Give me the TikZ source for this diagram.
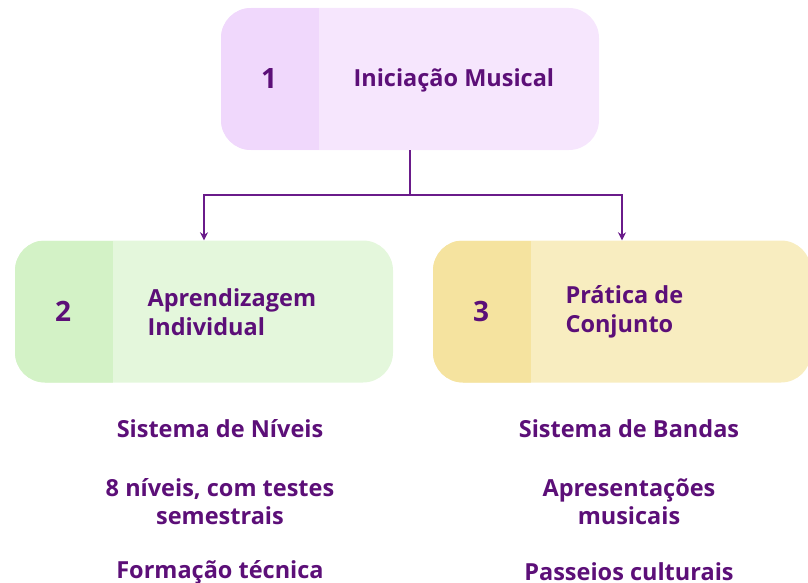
\documentclass[tikz,border=0pt]{standalone}
\usepackage{fontspec}
\setmainfont{Open Sans}
\usetikzlibrary{arrows.meta}
\definecolor{txt}{HTML}{5C0F78}
\definecolor{ln}{HTML}{6A1B8A}
\definecolor{pmain}{HTML}{F6E6FD}
\definecolor{pstrip}{HTML}{F0D8FC}
\definecolor{gmain}{HTML}{E4F7DC}
\definecolor{gstrip}{HTML}{D3F2C6}
\definecolor{ymain}{HTML}{F8EDC0}
\definecolor{ystrip}{HTML}{F5E39F}
\tikzset{
  card/.style n args={2}{rectangle, rounded corners=30pt, minimum width=378pt, minimum height=142pt,
    fill=#1, inner sep=0pt,
    path picture={\fill[#2, sharp corners] (path picture bounding box.south west) rectangle ([xshift=98pt]path picture bounding box.north west);}},
  num/.style={text=txt, font=\bfseries\fontsize{28}{30}\selectfont},
  ttl/.style={text=txt, font=\bfseries\fontsize{23.5}{29}\selectfont, align=left},
  item/.style={text=txt, font=\bfseries\fontsize{23.5}{28}\selectfont, align=center},
  conn/.style={draw=ln, line width=2pt},
  arr/.style={conn, -{Stealth[length=8pt,width=8pt]}}
}
\begin{document}
\begin{tikzpicture}[x=1pt,y=-1pt]
\useasboundingbox (0,0) rectangle (808,583);
\node[card={pmain}{pstrip}] (top) at (410,79) {};
\node[card={gmain}{gstrip}] (left) at (204,311.5) {};
\node[card={ymain}{ystrip}] (right) at (622,311.5) {};
\node[num] (n1) at (269,79) {1};
\node[ttl, anchor=west] (t1) at (350,80) {Iniciação Musical};
\node[num] (n2) at (63,311) {2};
\node[ttl, anchor=west] (t2) at (144,312) {Aprendizagem\\Individual};
\node[num] (n3) at (481,311) {3};
\node[ttl, anchor=west] (t3) at (562,312) {Prática de\\Conjunto};
\coordinate (j) at (410,195);
\draw[conn] (top.south) -- (j);
\draw[arr] (j) -| (left.north);
\draw[arr] (j) -| (right.north);
\node[item] (l1) at (220,429) {Sistema de Níveis};
\node[item] (l2) at (220,502) {8 níveis, com testes\\semestrais};
\node[item] (l3) at (220,572) {Formação técnica};
\node[item] (r1) at (629,429) {Sistema de Bandas};
\node[item] (r2) at (629,502) {Apresentações\\musicais};
\node[item] (r3) at (629,572) {Passeios culturais};
\end{tikzpicture}
\end{document}
